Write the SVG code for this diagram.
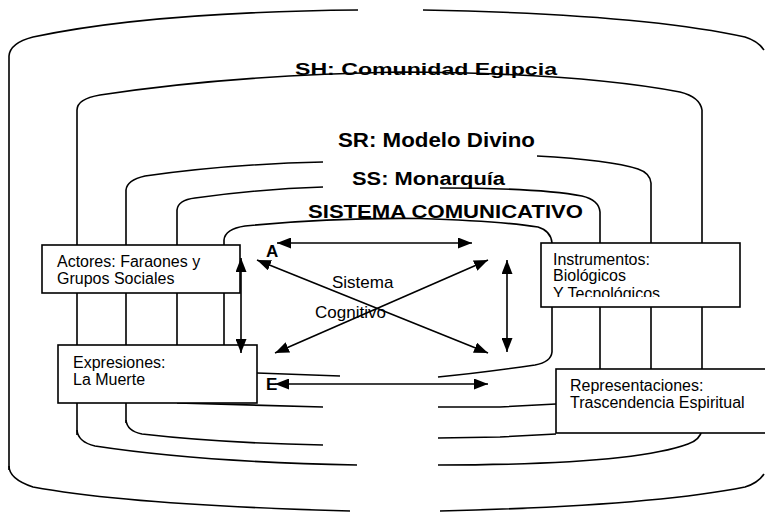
<svg xmlns="http://www.w3.org/2000/svg" width="765" height="512" viewBox="0 0 765 512">
<style>
.ln{fill:none;stroke:#000;stroke-width:1.6}
.bx{fill:#fff;stroke:#000;stroke-width:1.6}
.t{font-family:"Liberation Sans",Arial,sans-serif;font-size:16px;fill:#000}
.lb{font-family:"Liberation Sans",Arial,sans-serif;font-size:17px;fill:#000}
.h{font-family:"Liberation Sans",Arial,sans-serif;font-weight:bold;fill:#000}
.ar{fill:none;stroke:#000;stroke-width:1.6;marker-start:url(#ah);marker-end:url(#ah)}
</style>
<defs>
<marker id="ah" viewBox="0 0 14 11" refX="14" refY="5.5" markerWidth="14" markerHeight="11" orient="auto-start-reverse" markerUnits="userSpaceOnUse">
<path d="M0,0 L14,5.5 L0,11 Z" fill="#000"/>
</marker>
<clipPath id="clipInst"><rect x="541" y="243" width="199" height="54"/></clipPath>
</defs>
<rect width="765" height="512" fill="#fff"/>

<g id="sh-outer">
<path class="ln" d="M9 470 L9 56 Q10 43 33 37 Q150 12 358 10"/>
<path class="ln" d="M423 10 Q640 14 745 37 Q758 41 764 50"/>
<path class="ln" d="M9 466 Q9 479 33 487 Q130 505 350 511"/>
<path class="ln" d="M440 511 Q650 506 745 487 Q758 483 764 474"/>
</g>

<g id="sh-comunidad">
<path class="ln" d="M77 435 L77 110 Q77 99 100 95 Q230 75 400 72 Q580 73 680 92 Q700 97 702 110 L702 433"/>
<path class="ln" d="M77 430 Q78 442 95 446 Q200 462 357 465"/>
<path class="ln" d="M438 465 C560 465 650 458 688 444 Q700 440 702 430"/>
<text class="h" x="295" y="75" font-size="17" textLength="262" lengthAdjust="spacingAndGlyphs">SH: Comunidad Egipcia</text>
</g>

<g id="sr-modelo">
<path class="ln" d="M126 423 L126 190 Q127 180 145 176 Q230 164 323 162"/>
<path class="ln" d="M537 156 Q610 160 638 169 Q650 173 651 183 L651 433"/>
<path class="ln" d="M126 420 Q127 431 142 434 Q220 443 323 445"/>
<path class="ln" d="M438 438 L500 437 L556 434"/>
<text class="h" x="338" y="147" font-size="20" textLength="197" lengthAdjust="spacingAndGlyphs">SR: Modelo Divino</text>
</g>

<g id="ss-monarquia">
<path class="ln" d="M177 403 L177 210 Q178 200 195 198 Q260 189 323 187"/>
<path class="ln" d="M440 188 Q540 188 582 196 Q599 200 600 212 L600 403"/>
<path class="ln" d="M177 403 L323 407"/>
<path class="ln" d="M438 407 L500 407 L556 404"/>
<text class="h" x="352" y="185" font-size="18" textLength="153" lengthAdjust="spacingAndGlyphs">SS: Monarquía</text>
</g>

<g id="sistema-comunicativo">
<path class="ln" d="M224 373 L224 240 Q225 229 245 226 Q330 217.5 420 218.5 Q500 221 538 227 Q551 231 552 243 L552 352 Q551 362 535 365 Q480 373 438 377"/>
<path class="ln" d="M224 373 L257 373 L340 376"/>
<text class="h" x="308" y="218" font-size="18" textLength="275" lengthAdjust="spacingAndGlyphs">SISTEMA COMUNICATIVO</text>
</g>

<g id="node-actores">
<rect class="bx" x="42" y="245" width="198" height="48"/>
<text class="t" x="57" y="267">Actores: Faraones y</text>
<text class="t" x="57" y="284">Grupos Sociales</text>
</g>

<g id="node-expresiones">
<rect class="bx" x="58" y="345" width="199" height="58"/>
<text class="t" x="73" y="368">Expresiones:</text>
<text class="t" x="73" y="385">La Muerte</text>
</g>

<g id="node-instrumentos">
<rect class="bx" x="541" y="243" width="199" height="64"/>
<text class="t" x="553" y="265">Instrumentos:</text>
<text class="t" x="553" y="281">Biológicos</text>
<text class="t" x="553" y="299" clip-path="url(#clipInst)">Y Tecnológicos</text>
</g>

<g id="node-representaciones">
<rect class="bx" x="556" y="369" width="215" height="64"/>
<text class="t" x="570" y="391">Representaciones:</text>
<text class="t" x="570" y="408">Trascendencia Espiritual</text>
</g>

<g id="labels">
<text class="lb" x="332" y="288">Sistema</text>
<text class="lb" x="315" y="318">Cognitivo</text>
<text class="h" x="266" y="257" font-size="17">A</text>
<text class="h" x="266" y="390" font-size="17">E</text>
</g>

<g id="connectors">
<path class="ar" d="M277 243 L472 243"/>
<path class="ar" d="M257 260 L488 353"/>
<path class="ar" d="M275 353 L488 260"/>
<path class="ar" d="M507 260 L507 352"/>
<path class="ar" d="M241 258 L241 353"/>
<path class="ar" d="M275 384 L488 384"/>
</g>
</svg>
